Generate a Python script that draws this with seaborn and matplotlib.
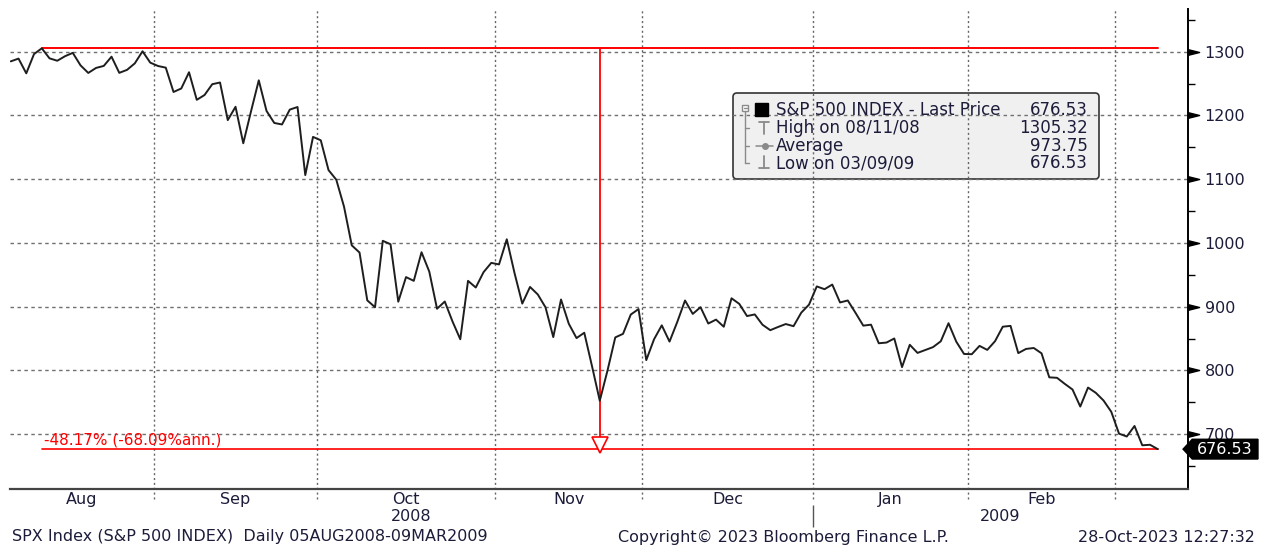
import numpy as np
import pandas as pd
import seaborn as sns
import matplotlib
matplotlib.use("Agg")
import matplotlib.pyplot as plt
from matplotlib.patches import FancyBboxPatch, Polygon, Rectangle
from matplotlib.transforms import Affine2D, blended_transform_factory

# S&P 500 daily closes, 05AUG2008 - 09MAR2009
aug = [1284.88, 1289.19, 1266.07, 1296.32, 1305.32, 1289.59, 1285.83, 1292.93, 1298.20, 1278.60,
       1266.69, 1274.54, 1277.72, 1292.20, 1266.84, 1271.51, 1281.66, 1300.68, 1282.83]
sep = [1277.58, 1274.98, 1236.83, 1242.31, 1267.79, 1224.51, 1232.04, 1249.05, 1251.70, 1192.70,
       1213.60, 1156.39, 1206.51, 1255.08, 1207.09, 1188.22, 1185.87, 1209.18, 1213.27, 1106.42, 1166.36]
oct_ = [1161.06, 1114.28, 1099.23, 1056.89, 996.23, 984.94, 909.92, 899.22, 1003.35, 998.01,
        907.84, 946.43, 940.55, 985.40, 955.05, 896.78, 908.11, 876.77, 848.92, 940.51, 930.09, 954.09, 968.75]
nov = [966.30, 1005.75, 952.77, 904.88, 930.99, 919.21, 898.95, 852.30, 911.29, 873.29,
       850.75, 859.12, 806.58, 752.44, 800.03, 851.81, 857.39, 887.68, 896.24]
dec = [816.21, 848.81, 870.74, 845.22, 876.07, 909.70, 888.67, 899.24, 873.59, 879.73, 868.57,
       913.18, 904.42, 885.28, 887.88, 871.63, 863.16, 868.15, 872.80, 869.42, 890.64, 903.25]
jan = [931.80, 927.45, 934.70, 906.65, 909.73, 890.35, 870.26, 871.79, 842.62, 843.74,
       850.12, 805.22, 840.24, 827.50, 831.95, 836.57, 845.71, 874.09, 845.14, 825.88]
feb = [825.44, 838.51, 832.23, 845.85, 868.60, 869.89, 827.16, 833.74, 835.19, 826.84,
       789.17, 788.42, 778.94, 770.05, 743.33, 773.14, 764.90, 752.83, 735.09]
mar = [700.82, 696.33, 712.87, 682.55, 683.38, 676.53]

holidays = ["2008-09-01", "2008-11-27", "2008-12-25", "2009-01-01", "2009-01-19", "2009-02-16"]
month_names = ["Aug", "Sep", "Oct", "Nov", "Dec", "Jan", "Feb"]
y_ticks = [700, 800, 900, 1000, 1100, 1200, 1300]
legend_labels = ["S&P 500 INDEX - Last Price", "High on 08/11/08", "Average", "Low on 03/09/09"]
legend_values = ["676.53", "1305.32", "973.75", "676.53"]

prices = np.array(aug + sep + oct_ + nov + dec + jan + feb + mar)
dates = pd.bdate_range("2008-08-05", "2009-03-09")
dates = dates[~dates.isin(pd.to_datetime(holidays))]
df = pd.DataFrame({"date": dates, "price": prices})
df["i"] = np.arange(len(df))

W, H = 1265, 548
sns.set_style("white")
plt.rcParams["font.family"] = ["DejaVu Sans"]
fig = plt.figure(figsize=(W / 100, H / 100), dpi=100)
ax = fig.add_axes([10 / W, (H - 489) / H, 1178 / W, 480 / H])
PX = Affine2D().scale(1, -1).translate(0, H)  # pixel coords, origin top-left
txt = "#1c1c3a"

sns.lineplot(data=df, x="i", y="price", color="#1e1e1e", linewidth=1.4, ax=ax, zorder=3)
ax.set_xlim(-0.1, 151.9)
ax.set_ylim(614, 1367)

# axes look
for s in ["left", "top"]:
    ax.spines[s].set_visible(False)
ax.spines["right"].set_color("black")
ax.spines["right"].set_linewidth(1.4)
ax.spines["bottom"].set_color("#444444")
ax.spines["bottom"].set_linewidth(1.6)
ax.set_xlabel("")
ax.set_ylabel("")
ax.set_xticks([])
ax.yaxis.tick_right()
ax.set_yticks(y_ticks)
ax.set_yticklabels([str(v) for v in y_ticks])
ax.set_yticks(list(np.array(y_ticks) + 50) + [650], minor=True)
ax.tick_params(axis="y", which="major", length=0, pad=12, labelsize=11.5, labelcolor=txt)
ax.tick_params(axis="y", which="minor", length=5, width=1, color="black", right=True, left=False)
for v in y_ticks:
    ax.axhline(v, color="#707070", lw=1, ls=(0, (2.5, 2.5)), zorder=1)
bt = blended_transform_factory(ax.transAxes, ax.transData)
tri = [(0, -1), (4, 0), (0, 1), (0, -1)]
ax.plot([1.0] * len(y_ticks), y_ticks, ls="none", marker=tri, ms=16, color="black",
        transform=bt, clip_on=False)

# month boundaries, month labels, years
xt = blended_transform_factory(ax.transData, ax.transAxes)
mstart = df.groupby(df["date"].dt.to_period("M"))["i"].min().values
bounds = mstart[1:] - 0.5
ax.vlines(bounds, -0.02, 1, color="#666666", lw=1, ls=(0, (1.5, 2)), transform=xt,
          clip_on=False, zorder=1)
edges = np.concatenate([[ax.get_xlim()[0]], bounds])
for k, name in enumerate(month_names):
    ax.text((edges[k] + edges[k + 1]) / 2, -0.022, name, transform=xt, ha="center", va="center",
            fontsize=11.5, color=txt)
ystart = df.groupby(df["date"].dt.year)["i"].min().values
ybound = ystart[1] - 0.5
ax.vlines([ybound], -0.079, -0.033, color="#555555", lw=1, transform=xt, clip_on=False)
xl = ax.get_xlim()
ax.text((xl[0] + ybound) / 2, -0.058, "2008", transform=xt, ha="center", va="center",
        fontsize=11.5, color=txt)
ax.text((ybound + xl[1]) / 2, -0.058, "2009", transform=xt, ha="center", va="center",
        fontsize=11.5, color=txt)

# high / low annotation
hi_i = int(df["price"].idxmax())
hi, lo = df["price"].max(), df["price"].min()
last_i = df["i"].iloc[-1]
trough_i = int(df.loc[df["date"].dt.month == 11, "price"].idxmin())
ax.plot([hi_i, last_i], [hi, hi], color="red", lw=1.4, zorder=2)
ax.plot([hi_i, last_i], [lo, lo], color="red", lw=1.2, zorder=2)
ax.plot([trough_i, trough_i], [hi, lo + 14], color="red", lw=1.3, zorder=2)
ax.plot([trough_i], [lo + 7], marker="v", ms=11, mfc="white", mec="red", mew=1.2, ls="none", zorder=4)
chg = lo / hi - 1
days = (df["date"].iloc[-1] - df["date"].iloc[hi_i]).days
ann = (1 + chg) ** (365 / days) - 1
ax.text(hi_i + 0.3, lo + 3, f"{chg * 100:.2f}% ({ann * 100:.2f}%ann.)", color="red",
        fontsize=11, ha="left", va="bottom")

# last price box
last = df["price"].iloc[-1]
box = Polygon([(0.9958, last), (1.0036, last + 15.5), (1.0594, last + 15.5),
               (1.0594, last - 15.5), (1.0036, last - 15.5)], closed=True, fc="black",
              ec="black", transform=bt, clip_on=False)
ax.add_patch(box)
ax.text(1.0315, last, f"{last:.2f}", transform=bt, color="white", ha="center", va="center",
        fontsize=11.5, clip_on=False)

# legend box (gridlines show through it)
leg = FancyBboxPatch((733, 93), 366, 86, boxstyle="round,pad=0,rounding_size=4",
                     fc="#f0f0f0", ec="#333333", lw=1.2, transform=PX, zorder=0, clip_on=False)
ax.add_patch(leg)
rows = [110, 128, 146, 163]
gray = "#8a8a8a"
fig.add_artist(Rectangle((742, 105), 6, 6, fc="white", ec=gray, lw=1, transform=PX))
fig.add_artist(plt.Line2D([743.5, 746.5], [108, 108], color=gray, lw=1, transform=PX))
fig.add_artist(plt.Line2D([745, 745], [111, rows[3]], color=gray, lw=1, transform=PX))
for r in rows[1:]:
    fig.add_artist(plt.Line2D([745, 749], [r, r], color=gray, lw=1, transform=PX))
fig.add_artist(Rectangle((755, 103), 13, 13, fc="black", ec="black", transform=PX))
fig.add_artist(plt.Line2D([759, 769], [122, 122], color=gray, lw=1.3, transform=PX))
fig.add_artist(plt.Line2D([764, 764], [122, 134], color=gray, lw=1.3, transform=PX))
fig.add_artist(plt.Line2D([756, 773], [rows[2], rows[2]], color=gray, lw=1.1, transform=PX))
fig.add_artist(plt.Line2D([764.5], [rows[2]], color=gray, marker="o", ms=4, transform=PX))
fig.add_artist(plt.Line2D([759, 769], [168, 168], color=gray, lw=1.3, transform=PX))
fig.add_artist(plt.Line2D([764, 764], [156, 168], color=gray, lw=1.3, transform=PX))
for r, lab, val in zip(rows, legend_labels, legend_values):
    fig.text(776, r, lab, transform=PX, ha="left", va="center", fontsize=12, color=txt)
    fig.text(1088, r, val, transform=PX, ha="right", va="center", fontsize=12, color=txt)

# footer
fig.text(12, 537, "SPX Index (S&P 500 INDEX)  Daily 05AUG2008-09MAR2009", transform=PX,
         ha="left", va="center", fontsize=11.5, color=txt)
fig.text(618, 537, "Copyright\u00a9 2023 Bloomberg Finance L.P.", transform=PX,
         ha="left", va="center", fontsize=11.5, color=txt)
fig.text(1255, 537, "28-Oct-2023 12:27:32", transform=PX, ha="right", va="center",
         fontsize=11.5, color=txt)

fig.savefig("out.png", dpi=100)
